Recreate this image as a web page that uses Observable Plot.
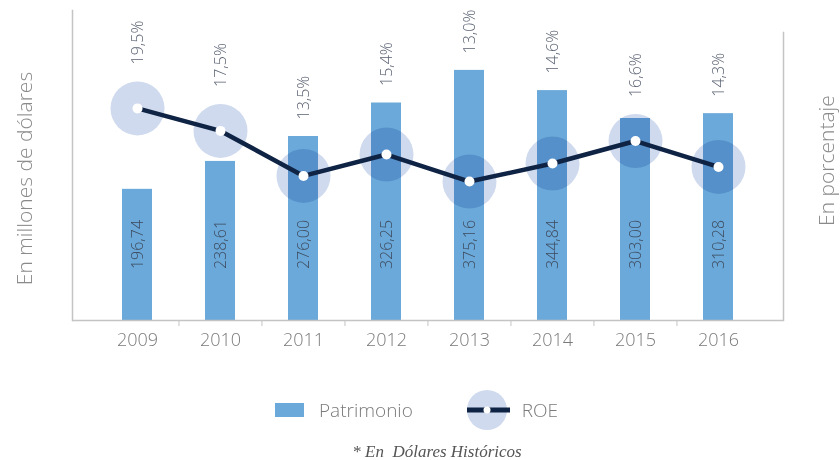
<!DOCTYPE html>
<html>
<head>
<meta charset="utf-8">
<script src="https://cdn.jsdelivr.net/npm/d3@7"></script>
<script src="https://cdn.jsdelivr.net/npm/@observablehq/plot@0.6"></script>
<style>
  body { margin: 0; background: #fff; font-family: "Open Sans", "Lato", sans-serif; }
  #chart { width: 840px; height: 360px; }
  .legend { display: flex; justify-content: flex-start; align-items: center; height: 42px; margin-top: 29px; padding-left: 275px; color: #7a7a7a; font-size: 19px; font-weight: 300; }
  .legend .item { display: flex; align-items: center; }
  .caption { text-align: center; font-family: "Liberation Serif", "DejaVu Serif", serif; font-style: italic; color: #555; font-size: 17px; margin-top: 11px; margin-left: 34px; white-space: pre; }
</style>
</head>
<body>
<div id="chart"></div>
<script>
const years = ["2009", "2010", "2011", "2012", "2013", "2014", "2015", "2016"];
const patrimonio = [196.74, 238.61, 276.00, 326.25, 375.16, 344.84, 303.00, 310.28];
const roe = [19.5, 17.5, 13.5, 15.4, 13.0, 14.6, 16.6, 14.3];
const yTitleLeft = "En millones de dólares";
const yTitleRight = "En porcentaje";
const legendLabels = ["Patrimonio", "ROE"];
const caption = "* En  Dólares Históricos";

const fmt2 = d3.format(".2f");
const fmt1 = d3.format(".1f");
const comma = s => s.replace(".", ",");

// secondary (ROE) axis mapped onto the primary scale units
const roeToY = d3.scaleLinear([0, 25], [-11, 411]);

const W = 840, H = 360;
const mL = 72, mR = 57, mT = 10, mB = 40;
const pInner = 0.64, pOuter = 0.597;
const yMax = 465;
const pxPerUnit = (H - mT - mB) / yMax;
const circleR = 27;

const data = years.map((y, i) => ({
  year: y,
  pat: patrimonio[i],
  roe: roe[i],
  roeY: roeToY(roe[i]),
  labelY: Math.max(patrimonio[i], roeToY(roe[i]) + circleR / pxPerUnit)
}));

const step = (W - mL - mR) / (years.length - pInner + 2 * pOuter);

const barColor = "#6aa9d9";
const circleColor = "#cfdaee";
const lineColor = "#0f2344";
const axisColor = "#c4c4c4";

const plot = Plot.plot({
  width: W,
  height: H,
  marginLeft: mL,
  marginRight: mR,
  marginTop: mT,
  marginBottom: mB,
  style: { fontFamily: "'Open Sans', Lato, sans-serif", background: "#fff" },
  x: { domain: years, paddingInner: pInner, paddingOuter: pOuter, axis: null },
  y: { domain: [0, yMax], axis: null },
  marks: [
    Plot.barY(data, { x: "year", y: "pat", fill: barColor }),
    Plot.dot(data, { x: "year", y: "roeY", r: circleR, fill: circleColor, mixBlendMode: "multiply" }),
    Plot.line(data, { x: "year", y: "roeY", stroke: lineColor, strokeWidth: 4.5 }),
    Plot.dot(data, { x: "year", y: "roeY", r: 5, fill: "#fff" }),
    Plot.text(data, { x: "year", y: 0, text: d => comma(fmt2(d.pat)), rotate: -90, dy: -76, fontSize: 16, fill: "#3e4a5e", fontWeight: 300 }),
    Plot.text(data, { x: "year", y: "labelY", text: d => comma(fmt1(d.roe)) + "%", rotate: -90, textAnchor: "start", dy: -17, fontSize: 16, fill: "#5a6272", fontWeight: 300 }),
    // axis lines
    Plot.ruleY([0], { stroke: axisColor, strokeWidth: 1.5 }),
    Plot.frame({ anchor: "left", stroke: axisColor, strokeWidth: 1.5 }),
    Plot.frame({ anchor: "right", stroke: axisColor, strokeWidth: 1.5, insetTop: 22 }),
    // x labels
    Plot.axisX({ tickSize: 0, tickPadding: 13, fontSize: 18, color: "#7a7a7a", fontWeight: 300, label: null }),
    Plot.axisX(years.slice(1), { tickSize: 6, text: null, dx: -step / 2, stroke: axisColor, label: null }),
    // axis titles
    Plot.text([yTitleLeft], { frameAnchor: "left", textAnchor: "middle", rotate: -90, dx: -47, dy: 13, fontSize: 21, fill: "#8a8a8a", fontWeight: 300 }),
    Plot.text([yTitleRight], { frameAnchor: "right", textAnchor: "middle", rotate: -90, dx: 44, dy: -5, fontSize: 21, fill: "#8a8a8a", fontWeight: 300 })
  ]
});
document.getElementById("chart").appendChild(plot);

const legend = document.createElement("div");
legend.className = "legend";
legend.innerHTML = `
  <div class="item">
    <svg width="29" height="14"><rect width="29" height="14" fill="${barColor}"/></svg>
    <span style="margin-left:15px">${legendLabels[0]}</span>
  </div>
  <div class="item" style="margin-left:52px">
    <svg width="48" height="42"><circle cx="22" cy="21" r="20" fill="${circleColor}"/><line x1="2" x2="45" y1="21" y2="21" stroke="${lineColor}" stroke-width="5"/><circle cx="22" cy="21" r="3.5" fill="#fff"/></svg>
    <span style="margin-left:9px">${legendLabels[1]}</span>
  </div>`;
document.body.appendChild(legend);

const cap = document.createElement("div");
cap.className = "caption";
cap.textContent = caption;
document.body.appendChild(cap);
</script>
</body>
</html>
